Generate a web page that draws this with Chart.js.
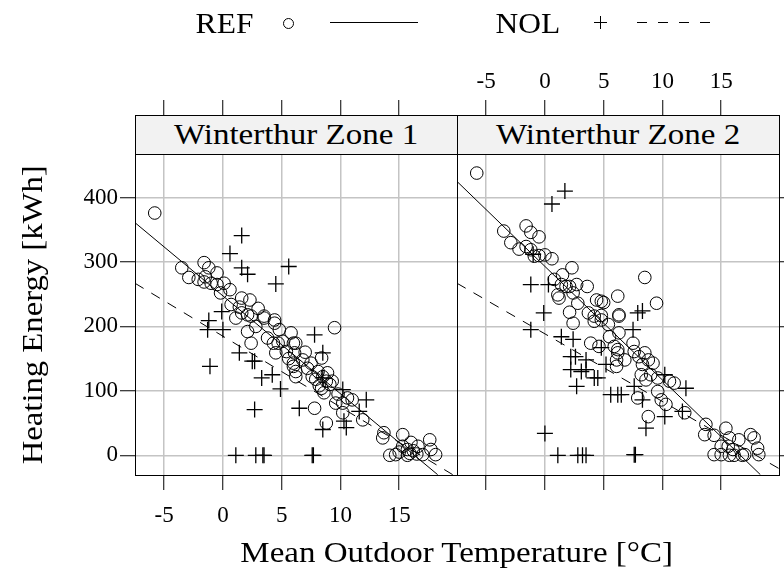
<!DOCTYPE html>
<html>
<head>
<meta charset="utf-8">
<script src="https://cdn.jsdelivr.net/npm/chart.js@4.4.0/dist/chart.umd.min.js"></script>
<style>
    body { margin: 0; width: 784px; height: 582px; overflow: hidden; background: #fff; position: relative; font-family: 'Liberation Serif', serif; color: #000; }
    canvas { position: absolute; left: 0; top: 0; }
    .txt { position: absolute; font-size: 30px; line-height: 30px; white-space: nowrap; text-align: center; }
    .panel { position: absolute; top: 154px; width: 323px; height: 322px; border: 1px solid #000; box-sizing: border-box; }
    .strip { position: absolute; top: 115px; width: 323px; height: 40px; border: 1px solid #000; box-sizing: border-box; background: #f2f2f2; font-size: 30px; line-height: 36px; text-align: center; }
    .strip span { display: inline-block; transform: scaleX(1.1); }
</style>
</head>
<body>
<canvas id="zone1" width="784" height="582"></canvas>
<canvas id="zone2" width="810" height="582"></canvas>

<div class="strip" style="left:135px;"><span>Winterthur Zone 1</span></div>
<div class="strip" style="left:457px;"><span>Winterthur Zone 2</span></div>
<div class="panel" style="left:135px;"></div>
<div class="panel" style="left:457px;"></div>

<!-- legend -->
<div class="txt" style="left:195px; top:8px; width:60px;"><span style="display:inline-block; transform:scaleX(1.05);">REF</span></div>
<div style="position:absolute; left:283px; top:18px; width:9px; height:9px; border:1px solid #000; border-radius:50%;"></div>
<div style="position:absolute; left:330px; top:22px; width:88px; height:1px; background:#000;"></div>
<div class="txt" style="left:493px; top:8px; width:70px;"><span style="display:inline-block; transform:scaleX(1.05);">NOL</span></div>
<div style="position:absolute; left:594px; top:22px; width:13px; height:1px; background:#000;"></div>
<div style="position:absolute; left:600px; top:16px; width:1px; height:13px; background:#000;"></div>
<div style="position:absolute; left:637px; top:22px; width:73px; height:1px; background:repeating-linear-gradient(to right, #000 0 10px, transparent 10px 21px);"></div>

<!-- axis titles -->
<div class="txt" style="left:157px; top:537px; width:600px;"><span style="display:inline-block; transform:scaleX(1.1);">Mean Outdoor Temperature [°C]</span></div>
<div class="txt" style="left:-268px; top:300px; width:600px; transform:rotate(-90deg);"><span style="display:inline-block; transform:scaleX(1.09);">Heating Energy [kWh]</span></div>

<script>
// axis limits and ticks
const xLimits = [-7.48, 19.92];
const yLimits = [-30.6, 467.6];
const xTicks = [-5, 0, 5, 10, 15];
const yTicks = [0, 100, 200, 300, 400];

// Winterthur Zone 1, REF
const refTemp1 = [
    -5.8, -3.5, -2.9, -2.1, -1.6, -1.2, -0.5, -1.5, -1.6, -1.0,
    -0.5, 0.1, 0.6, 1.6, 2.3, 0.7, 1.6, 2.1, 3.5, 4.4,
    1.1, 2.4, 3.5, 2.1, 2.4, 4.4, 4.8, 3.8, 4.3, 4.7,
    5.1, 4.5, 5.4, 6.0, 6.0, 6.2, 9.5, 6.2, 6.1, 6.0,
    6.2, 6.8, 7.5, 7.6, 8.1, 8.4, 8.5, 8.8, 8.4, 9.1,
    9.3, 8.6, 9.6, 10.2, 10.6, 11.0, 10.2, 7.8, 8.8, 11.9,
    13.7, 13.6, 15.3, 14.7, 15.3, 15.7, 14.2, 15.7, 16.6, 17.0,
    17.6, 18.1, 17.7, 15.0, 15.9, 16.2, 16.5, 16.0, 7.2, 7.9,
    8.2, 5.6, 3.0, -0.2, 5.8, 8.9, 9.8, 7.0, 2.8, 1.4
];
const refEnergy1 = [
    376, 291, 276, 273, 299, 291, 283, 277, 269, 267,
    265, 267, 257, 244, 241, 234, 221, 218, 216, 210,
    213, 216, 213, 192, 174, 205, 195, 182, 174, 174,
    177, 159, 161, 174, 138, 122, 198, 174, 159, 143,
    130, 148, 143, 122, 130, 151, 122, 115, 104, 110,
    115, 97, 81, 81, 89, 86, 66, 73, 50, 55,
    35, 27, 32, 1, 14, 9, 0, 0, 14, 1,
    24, 1, 9, 5, 3, 7, 2, 20, 135, 118,
    108, 150, 228, 252, 190, 128, 95, 160, 200, 230
];

// Winterthur Zone 1, NOL
const nolTemp1 = [
    1.6, 0.6, 1.6, 2.1, 5.6, 4.5, -1.2, -1.3, 0.0, -1.1,
    1.4, 2.5, 2.7, 3.3, 4.2, 4.9, 2.7, 1.1, 2.8, 3.4,
    3.5, -0.1, 7.8, 8.5, 6.5, 8.5, 10.3, 12.2, 11.6, 10.2,
    7.6, 7.7, 8.5, 10.5
];
const nolEnergy1 = [
    341, 313, 291, 281, 293, 266, 209, 195, 195, 138,
    159, 146, 146, 120, 125, 103, 71, 0, 0, 0,
    0, 223, 187, 159, 73, 40, 53, 86, 68, 102,
    0, 0, 120, 43
];

// Winterthur Zone 2, REF
const refTemp2 = [
    -5.8, -3.5, -2.9, -2.2, -1.6, -1.2, -0.5, -1.6, -1.2, -0.9,
    -0.5, 0.0, 0.6, 0.8, 1.5, 2.3, 1.4, 1.8, 2.1, 2.7,
    1.1, 1.2, 2.4, 2.8, 3.6, 4.4, 4.8, 5.0, 6.2, 2.1,
    3.7, 4.2, 4.8, 6.3, 8.5, 9.5, 6.3, 2.4, 4.2, 4.8,
    5.4, 3.9, 4.6, 5.5, 5.9, 6.2, 6.1, 6.1, 6.3, 6.2,
    6.8, 7.5, 7.6, 8.0, 8.5, 8.8, 9.2, 8.3, 8.2, 8.6,
    9.0, 9.6, 10.6, 11.0, 9.6, 9.9, 10.3, 7.9, 8.8, 11.9,
    13.7, 13.6, 14.4, 15.4, 15.7, 15.0, 15.6, 14.4, 15.0, 15.7,
    16.0, 16.5, 17.0, 17.5, 17.8, 18.1, 18.2, 16.8, 16.1
];
const refEnergy2 = [
    438, 348, 330, 320, 356, 346, 339, 324, 319, 309,
    310, 311, 305, 273, 280, 291, 265, 262, 262, 265,
    249, 244, 252, 236, 262, 241, 239, 237, 247, 222,
    221, 216, 217, 216, 276, 236, 218, 205, 208, 210,
    203, 174, 169, 184, 169, 159, 148, 138, 190, 164,
    148, 174, 161, 153, 159, 148, 143, 141, 125, 117,
    125, 120, 115, 112, 99, 86, 79, 89, 60, 66,
    48, 32, 31, 42, 27, 14, 14, 1, 1, 0,
    9, 24, 1, 32, 27, 11, 1, 0, 0
];

// Winterthur Zone 2, NOL
const nolTemp2 = [
    1.7, 0.6, -1.2, 0.3, -0.1, -1.0, -1.2, 1.4, 2.4, 2.2,
    2.6, 3.5, 4.8, 5.2, 2.2, 3.1, 3.5, 2.7, 4.2, 4.5,
    5.6, 6.2, 0.0, 1.1, 2.8, 3.2, 3.5, 7.9, 8.3, 7.5,
    10.2, 12.0, 7.6, 6.5, 8.3, 10.2, 11.7, 8.6, 7.6, 7.7
];
const nolEnergy2 = [
    410, 390, 265, 265, 221, 312, 195, 184, 180, 153,
    153, 148, 167, 141, 133, 130, 133, 107, 120, 120,
    94, 94, 34, 0, 0, 0, 0, 221, 224, 195,
    125, 104, 107, 94, 86, 60, 68, 42, 1, 1
];

// fitted lines, read at the panel edges
const refLineTemp1 = [-7.48, 18.27];
const refLineEnergy1 = [361, -30];
const nolLineTemp1 = [-7.48, 19.55];
const nolLineEnergy1 = [267, -30];
const refLineTemp2 = [-7.48, 18.33];
const refLineEnergy2 = [425, -30];
const nolLineTemp2 = [-7.48, 19.92];
const nolLineEnergy2 = [267, -20.6];

const tickFont = { family: 'Liberation Serif', size: 23 };
const gridGray = '#c4c4c4';

function toPoints(xs, ys) {
    return xs.map((x, i) => ({ x: x, y: ys[i] }));
}

function makeDatasets(refT, refE, nolT, nolE, refLT, refLE, nolLT, nolLE) {
    return [
        {
            label: 'REF',
            data: toPoints(refT, refE),
            pointStyle: 'circle',
            pointRadius: 6.3,
            borderColor: '#000',
            backgroundColor: 'rgba(0,0,0,0)',
            borderWidth: 1
        },
        {
            label: 'NOL',
            data: toPoints(nolT, nolE),
            pointStyle: 'cross',
            pointRadius: 8,
            borderColor: '#000',
            borderWidth: 1.3
        },
        {
            label: 'REF fit',
            data: toPoints(refLT, refLE),
            showLine: true,
            pointRadius: 0,
            borderColor: '#000',
            borderWidth: 1
        },
        {
            label: 'NOL fit',
            data: toPoints(nolLT, nolLE),
            showLine: true,
            pointRadius: 0,
            borderColor: '#000',
            borderWidth: 1,
            borderDash: [10, 9]
        }
    ];
}

function xScale(position, showLabels, tickLen, boxHeight, showGrid) {
    return {
        type: 'linear',
        position: position,
        min: xLimits[0],
        max: xLimits[1],
        afterBuildTicks: (scale) => { scale.ticks = xTicks.map(v => ({ value: v })); },
        afterFit: (scale) => { scale.height = boxHeight; },
        border: { display: false },
        grid: {
            display: true,
            drawOnChartArea: showGrid,
            color: gridGray,
            lineWidth: 1.5,
            tickColor: '#000',
            tickWidth: 1,
            tickLength: tickLen
        },
        ticks: {
            display: showLabels,
            autoSkip: false,
            maxRotation: 0,
            color: '#000',
            font: tickFont,
            padding: position === 'top' ? 4 : 12,
            callback: (v) => String(v)
        }
    };
}

function yScale(position, showLabels, boxWidth) {
    return {
        type: 'linear',
        position: position,
        min: yLimits[0],
        max: yLimits[1],
        afterBuildTicks: (scale) => { scale.ticks = yTicks.map(v => ({ value: v })); },
        afterFit: (scale) => { scale.width = boxWidth; },
        border: { display: false },
        grid: {
            color: gridGray,
            lineWidth: 1.5,
            tickColor: '#000',
            tickWidth: 1,
            tickLength: 15
        },
        ticks: {
            display: showLabels,
            autoSkip: false,
            color: '#000',
            font: tickFont,
            padding: 2,
            callback: (v) => String(v)
        }
    };
}

const commonOptions = {
    responsive: false,
    animation: false,
    devicePixelRatio: 1,
    plugins: { legend: { display: false }, tooltip: { enabled: false } }
};

new Chart(document.getElementById('zone1'), {
    type: 'scatter',
    data: {
        datasets: makeDatasets(refTemp1, refEnergy1, nolTemp1, nolEnergy1,
            refLineTemp1, refLineEnergy1, nolLineTemp1, nolLineEnergy1)
    },
    options: {
        ...commonOptions,
        layout: { padding: { left: 75, right: 327, top: 100, bottom: 47 } },
        scales: {
            x: xScale('bottom', true, 15, 60, true),
            x2: xScale('top', false, 54, 54, false),
            y: yScale('left', true, 60)
        }
    }
});

new Chart(document.getElementById('zone2'), {
    type: 'scatter',
    data: {
        datasets: makeDatasets(refTemp2, refEnergy2, nolTemp2, nolEnergy2,
            refLineTemp2, refLineEnergy2, nolLineTemp2, nolLineEnergy2)
    },
    options: {
        ...commonOptions,
        layout: { padding: { left: 457, right: 16, top: 60, bottom: 92 } },
        scales: {
            x: xScale('bottom', false, 15, 15, true),
            x2: xScale('top', true, 54, 94, false),
            y: yScale('right', false, 15)
        }
    }
});
</script>
</body>
</html>
